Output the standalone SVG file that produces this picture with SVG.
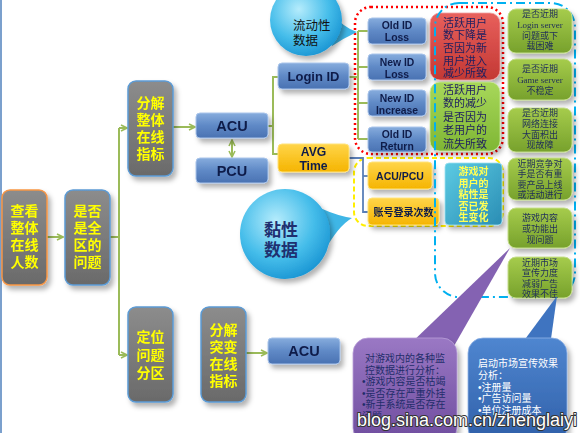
<svg xmlns="http://www.w3.org/2000/svg" width="580" height="433" viewBox="0 0 580 433">
<defs>
<style>
.gray{stroke:#5b9bd5;stroke-width:1.5;fill:url(#gGray)}
.yt{font-family:"Liberation Sans","Noto Sans CJK SC",sans-serif;font-weight:bold;font-size:14px;fill:#ffff00;text-anchor:middle}
.blue{fill:url(#gBlue);stroke:#a9c4ea;stroke-width:1}
.bt{font-family:"Liberation Sans","DejaVu Sans",sans-serif;font-weight:bold;fill:#101c4a;text-anchor:middle}
.orange{fill:url(#gOrange);stroke:#ffe27a;stroke-width:1}
.ot{font-family:"Liberation Sans","Noto Sans CJK SC",sans-serif;font-weight:bold;fill:#101c4a;text-anchor:middle}
.olive{fill:url(#gOlive);stroke:#c4dd8a;stroke-width:1}
.gt{font-family:"Liberation Serif","Noto Sans CJK SC",serif;font-size:9px;fill:#1f2d5a;text-anchor:middle}
.ct{font-family:"Liberation Sans","Noto Sans CJK SC",sans-serif;font-size:11px;fill:#1f2060;text-anchor:middle}
.cj{font-family:"Liberation Sans","Noto Sans CJK SC",sans-serif}
.con{stroke:#9bbb59;stroke-width:2;fill:none}
.conb{stroke:#5a7fb8;stroke-width:1.8;fill:none}
.sh{filter:url(#sh)}
</style>
<linearGradient id="gGray" x1="0" y1="0" x2="0" y2="1"><stop offset="0" stop-color="#8c8c8c"/><stop offset="1" stop-color="#6a6a6a"/></linearGradient>
<linearGradient id="gBlue" x1="0" y1="0" x2="0" y2="1"><stop offset="0" stop-color="#86acdd"/><stop offset="0.5" stop-color="#5f89c6"/><stop offset="1" stop-color="#4a72b2"/></linearGradient>
<linearGradient id="gOrange" x1="0" y1="0" x2="0" y2="1"><stop offset="0" stop-color="#ffd54a"/><stop offset="1" stop-color="#f5b400"/></linearGradient>
<linearGradient id="gOlive" x1="0" y1="0" x2="0" y2="1"><stop offset="0" stop-color="#a6cc4c"/><stop offset="1" stop-color="#77a12c"/></linearGradient>
<linearGradient id="gRed" x1="0" y1="0" x2="0" y2="1"><stop offset="0" stop-color="#e8605c"/><stop offset="1" stop-color="#c33834"/></linearGradient>
<linearGradient id="gLGreen" x1="0" y1="0" x2="0" y2="1"><stop offset="0" stop-color="#a8d85a"/><stop offset="1" stop-color="#7fb634"/></linearGradient>
<linearGradient id="gTeal" x1="0" y1="0" x2="1" y2="1"><stop offset="0" stop-color="#5ccbe3"/><stop offset="1" stop-color="#2a8db4"/></linearGradient>
<linearGradient id="gPurple" x1="0" y1="0" x2="0" y2="1"><stop offset="0" stop-color="#9a78c4"/><stop offset="1" stop-color="#6e4c9e"/></linearGradient>
<linearGradient id="gBlueC" x1="0" y1="0" x2="0" y2="1"><stop offset="0" stop-color="#4f86d0"/><stop offset="1" stop-color="#2f5fa8"/></linearGradient>
<radialGradient id="gBub" cx="0.4" cy="0.35" r="0.7"><stop offset="0" stop-color="#b5ecfc"/><stop offset="0.6" stop-color="#45bdea"/><stop offset="1" stop-color="#1893d2"/></radialGradient>
<filter id="sh" x="-20%" y="-20%" width="160%" height="160%"><feDropShadow dx="3" dy="4" stdDeviation="2.5" flood-color="#000" flood-opacity="0.3"/></filter>
<marker id="arr" viewBox="0 0 8 8" refX="7" refY="4" markerWidth="8" markerHeight="8" markerUnits="userSpaceOnUse" orient="auto-start-reverse"><path d="M1,1 L7,4 L1,7" fill="none" stroke="#9bbb59" stroke-width="1.6"/></marker>
</defs>
<rect x="0" y="0" width="580" height="433" fill="#ffffff"/>
<line x1="1" y1="0" x2="1" y2="433" stroke="#4f81bd" stroke-width="1.5"/>

<g id="frames">
<rect x="355" y="7" width="148" height="147" rx="16" fill="none" stroke="#ff0000" stroke-width="2.5" stroke-dasharray="2 3"/>
<rect x="354" y="158" width="149" height="68" rx="14" fill="none" stroke="#ffee00" stroke-width="2" stroke-dasharray="5 3"/>
</g>

<g id="connectors">
<line class="con" x1="47" y1="237" x2="63" y2="237" marker-end="url(#arr)"/>
<polyline class="con" points="110,237 119,237"/>
<line class="con" x1="119" y1="128" x2="119" y2="355"/>
<line class="con" x1="119" y1="128" x2="127" y2="128" marker-end="url(#arr)"/>
<line class="con" x1="119" y1="355" x2="127" y2="355" marker-end="url(#arr)"/>
<line class="con" x1="173" y1="127" x2="195" y2="127" marker-end="url(#arr)"/>
<line class="con" x1="232" y1="140" x2="232" y2="157" marker-start="url(#arr)" marker-end="url(#arr)"/>
<polyline class="con" points="268,126 273,126"/>
<polyline class="con" points="278,77 273,77 273,154 278,154"/>
<polyline class="con" points="349,77 358,77"/>
<line class="con" x1="358" y1="31" x2="358" y2="139"/>
<line class="con" x1="358" y1="31" x2="368" y2="31"/>
<line class="con" x1="358" y1="67" x2="368" y2="67"/>
<line class="con" x1="358" y1="103" x2="368" y2="103"/>
<line class="con" x1="358" y1="139" x2="368" y2="139"/>
<polyline class="conb" points="349,158 363,158 363,212 368,212"/>
<line class="conb" x1="363" y1="176" x2="368" y2="176"/>
<line class="con" x1="246" y1="353" x2="267" y2="353" marker-end="url(#arr)"/>
</g>

<g id="bubble-flow">
<path d="M330,12 Q344,28 357,32 Q344,38 332,46 Z" fill="#3fb6e6"/>
<circle cx="306" cy="20" r="36" fill="url(#gBub)" class="sh"/>
<text class="cj" x="293" y="30" font-size="12.5" fill="#111">流动性<tspan x="293" dy="15">数据</tspan></text>
</g>
<g id="bubble-sticky">
<path d="M320,208 Q338,216 352,218 Q338,226 324,252 Z" fill="#3fb6e6"/>
<circle cx="285" cy="234" r="45" fill="url(#gBub)" class="sh"/>
<text class="cj" x="281" y="236" font-size="17" font-weight="bold" fill="#1f3070" text-anchor="middle">黏性<tspan x="281" dy="20">数据</tspan></text>
</g>

<g id="n-view" class="sh">
<rect x="2" y="190" width="45" height="95" rx="8" fill="url(#gGray)" stroke="#f79646" stroke-width="1.5"/>
<text class="yt" x="24.5" y="216">查看<tspan x="24.5" dy="17">整体</tspan><tspan x="24.5" dy="17">在线</tspan><tspan x="24.5" dy="17">人数</tspan></text>
</g>
<g id="n-whole" class="sh">
<rect class="gray" x="65" y="190" width="45" height="95" rx="8"/>
<text class="yt" x="87.5" y="216">是否<tspan x="87.5" dy="17">是全</tspan><tspan x="87.5" dy="17">区的</tspan><tspan x="87.5" dy="17">问题</tspan></text>
</g>
<g id="n-decomp" class="sh">
<rect class="gray" x="128" y="81" width="45" height="95" rx="8"/>
<text class="yt" x="150.5" y="108">分解<tspan x="150.5" dy="17">整体</tspan><tspan x="150.5" dy="17">在线</tspan><tspan x="150.5" dy="17">指标</tspan></text>
</g>
<g id="n-locate" class="sh">
<rect class="gray" x="128" y="307" width="45" height="95" rx="8"/>
<text class="yt" x="150.5" y="342">定位<tspan x="150.5" dy="18">问题</tspan><tspan x="150.5" dy="18">分区</tspan></text>
</g>
<g id="n-decomp2" class="sh">
<rect class="gray" x="201" y="307" width="45" height="95" rx="8"/>
<text class="yt" x="223.5" y="335">分解<tspan x="223.5" dy="17">突变</tspan><tspan x="223.5" dy="17">在线</tspan><tspan x="223.5" dy="17">指标</tspan></text>
</g>

<g id="n-acu" class="sh"><rect class="blue" x="196" y="113" width="72" height="25" rx="4"/><text class="bt" x="232" y="131" font-size="14.5">ACU</text></g>
<g id="n-pcu" class="sh"><rect class="blue" x="196" y="158" width="72" height="25" rx="4"/><text class="bt" x="232" y="176" font-size="14.5">PCU</text></g>
<g id="n-acu2" class="sh"><rect class="blue" x="268" y="338" width="72" height="26" rx="4"/><text class="bt" x="304" y="356" font-size="14.5">ACU</text></g>
<g id="n-login" class="sh"><rect class="blue" x="278" y="63" width="71" height="26" rx="4"/><text class="bt" x="313.5" y="81" font-size="13">Login ID</text></g>
<g id="n-oldloss" class="sh"><rect class="blue" x="368" y="18" width="58" height="26" rx="4"/><text class="bt" x="397" y="29" font-size="10.4">Old ID<tspan x="397" dy="12">Loss</tspan></text></g>
<g id="n-newloss" class="sh"><rect class="blue" x="368" y="54" width="58" height="26" rx="4"/><text class="bt" x="397" y="65.5" font-size="10.4">New ID<tspan x="397" dy="12">Loss</tspan></text></g>
<g id="n-newinc" class="sh"><rect class="blue" x="368" y="90" width="58" height="26" rx="4"/><text class="bt" x="397" y="101.5" font-size="10.4">New ID<tspan x="397" dy="12">Increase</tspan></text></g>
<g id="n-oldret" class="sh"><rect class="blue" x="368" y="127" width="58" height="25" rx="4"/><text class="bt" x="397" y="138" font-size="10.4">Old ID<tspan x="397" dy="12">Return</tspan></text></g>

<g id="n-avg" class="sh"><rect class="orange" x="278" y="144" width="71" height="28" rx="4"/><text class="ot" x="313.5" y="156" font-size="12.2">AVG<tspan x="313.5" dy="14">Time</tspan></text></g>
<g id="n-acupcu" class="sh"><rect class="orange" x="368" y="162" width="64" height="27" rx="4"/><text class="ot" x="400" y="180" font-size="10.5">ACU/PCU</text></g>
<g id="n-logins" class="sh"><rect class="orange" x="368" y="198" width="71" height="27" rx="4"/><text class="ot" x="403.5" y="215.5" font-size="10">账号登录次数</text></g>

<g id="n-red" class="sh">
<rect x="430" y="13" width="70" height="67" rx="10" fill="url(#gRed)" stroke="#f0a0a0" stroke-width="0.8"/>
<text class="ct" x="465" y="26.5">活跃用户<tspan x="465" dy="12.7">数下降是</tspan><tspan x="465" dy="12.7">否因为新</tspan><tspan x="465" dy="12.7">用户进入</tspan><tspan x="465" dy="12.7">减少所致</tspan></text>
</g>
<g id="n-green" class="sh">
<rect x="430" y="82" width="70" height="69" rx="10" fill="url(#gLGreen)" stroke="#cde8a0" stroke-width="0.8"/>
<text class="ct" x="465" y="93.5" font-size="11.5">活跃用户<tspan x="465" dy="13.5">数的减少</tspan><tspan x="465" dy="13.5">是否因为</tspan><tspan x="465" dy="13.5">老用户的</tspan><tspan x="465" dy="13.5">流失所致</tspan></text>
</g>
<g id="n-teal" class="sh">
<rect x="445" y="163" width="57" height="62" rx="4" fill="url(#gTeal)" stroke="#9be0f0" stroke-width="0.8"/>
<text class="cj" x="473.5" y="175" font-size="10" font-weight="bold" fill="#ffff55" text-anchor="middle">游戏对<tspan x="473.5" dy="11.5">用户的</tspan><tspan x="473.5" dy="11.5">粘性是</tspan><tspan x="473.5" dy="11.5">否已发</tspan><tspan x="473.5" dy="11.5">生变化</tspan></text>
</g>

<rect x="435" y="3" width="140" height="294" rx="24" fill="none" stroke="#00b0f0" stroke-width="2" stroke-dasharray="9 4 2 4"/>

<g id="n-c1" class="sh"><rect class="olive" x="508" y="9" width="64" height="44" rx="8"/>
<text class="gt" x="540" y="17">是否近期<tspan x="540" dy="10.8">Login server</tspan><tspan x="540" dy="10.8">问题或下</tspan><tspan x="540" dy="10.8">载困难</tspan></text></g>
<g id="n-c2" class="sh"><rect class="olive" x="508" y="59" width="64" height="41" rx="8"/>
<text class="gt" x="540" y="72">是否近期<tspan x="540" dy="11">Game server</tspan><tspan x="540" dy="11">不稳定</tspan></text></g>
<g id="n-c3" class="sh"><rect class="olive" x="508" y="108" width="64" height="44" rx="8"/>
<text class="gt" x="540" y="116">是否近期<tspan x="540" dy="10.8">网络连接</tspan><tspan x="540" dy="10.8">大面积出</tspan><tspan x="540" dy="10.8">现故障</tspan></text></g>
<g id="n-c4" class="sh"><rect class="olive" x="508" y="158" width="64" height="42" rx="8"/>
<text class="gt" x="540" y="167">近期竞争对<tspan x="540" dy="10.3">手是否有重</tspan><tspan x="540" dy="10.3">要产品上线</tspan><tspan x="540" dy="10.3">或活动进行</tspan></text></g>
<g id="n-c5" class="sh"><rect class="olive" x="508" y="208" width="64" height="40" rx="8"/>
<text class="gt" x="540" y="220.5">游戏内容<tspan x="540" dy="11">或功能出</tspan><tspan x="540" dy="11">现问题</tspan></text></g>
<g id="n-c6" class="sh"><rect class="olive" x="508" y="257" width="64" height="41" rx="8"/>
<text class="gt" x="540" y="266">近期市场<tspan x="540" dy="10.3">宣传力度</tspan><tspan x="540" dy="10.3">减弱广告</tspan><tspan x="540" dy="10.3">效果不佳</tspan></text></g>

<g id="n-purple">
<polygon points="408,346 510,248 454,346" fill="#8462b2"/>
<rect x="353" y="338" width="104" height="105" rx="15" fill="url(#gPurple)" stroke="#b9a0d8" stroke-width="0.8" class="sh"/>
<text class="cj" x="365" y="362" font-size="10" fill="#1f2d6a">对游戏内的各种监<tspan x="365" dy="11.6">控数据进行分析：</tspan><tspan x="362" dy="11.6">•游戏内容是否枯竭</tspan><tspan x="362" dy="11.6">•是否存在严重外挂</tspan><tspan x="362" dy="11.6">•新手系统是否存在</tspan><tspan x="362" dy="11.6">问题</tspan></text>
</g>
<g id="n-bluec">
<polygon points="520,346 557,296 550,346" fill="#3f74c0"/>
<rect x="468" y="338" width="99" height="105" rx="15" fill="url(#gBlueC)" stroke="#8fb2e6" stroke-width="0.8" class="sh"/>
<text class="cj" x="478" y="367" font-size="10" fill="#ffffff">启动市场宣传效果<tspan x="478" dy="12">分析：</tspan><tspan x="478" dy="11.6">•注册量</tspan><tspan x="478" dy="11.6">•广告访问量</tspan><tspan x="478" dy="12">•单位注册成本</tspan></text>
</g>

<text x="357" y="426" font-family="Liberation Sans,Arial,sans-serif" font-size="18" fill="#ffffff" stroke="#333" stroke-width="2" paint-order="stroke" stroke-linejoin="round">blog.sina.com.cn/zhenglaiyi</text>
</svg>
